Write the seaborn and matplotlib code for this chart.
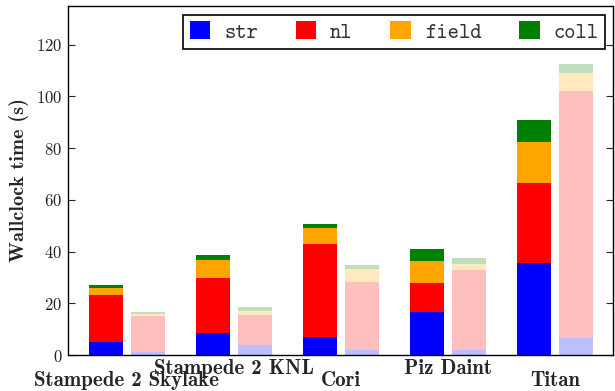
import matplotlib
matplotlib.use("Agg")
import matplotlib.pyplot as plt
from matplotlib.patches import Patch
from matplotlib.transforms import ScaledTranslation
import seaborn as sns
import pandas as pd
import numpy as np

machines = ["Stampede 2 Skylake", "Stampede 2 KNL", "Cori", "Piz Daint", "Titan"]
components = ["str", "nl", "field", "coll"]
colors = ["#0000ff", "#ff0000", "#ffa500", "#008000"]
light_colors = ["#bfbfff", "#ffbfbf", "#ffe9bf", "#bfdfbf"]

# segment values (s), first (solid) variant
solid_str = [4.9, 8.7, 7.1, 16.7, 35.4]
solid_nl = [18.3, 21.1, 35.8, 11.3, 31.2]
solid_field = [2.7, 7.0, 6.1, 8.2, 15.9]
solid_coll = [1.3, 2.0, 1.7, 4.8, 8.4]
# second (faded) variant
light_str = [1.3, 4.0, 1.8, 1.8, 6.4]
light_nl = [13.7, 11.4, 26.3, 30.9, 95.7]
light_field = [0.7, 1.7, 5.3, 2.6, 7.1]
light_coll = [1.0, 1.4, 1.6, 2.2, 3.4]

solid = np.array([solid_str, solid_nl, solid_field, solid_coll])
light = np.array([light_str, light_nl, light_field, light_coll])
solid_cum = np.cumsum(solid, axis=0)
light_cum = np.cumsum(light, axis=0)

sns.set_style("white")
plt.rcParams["font.family"] = ["cmr10", "DejaVu Serif"]
plt.rcParams["axes.formatter.use_mathtext"] = True

fig = plt.figure(figsize=(6.15, 3.91), dpi=100)
ax = fig.add_axes([68 / 615, 1 - 355 / 391, (613 - 68) / 615, (355 - 6) / 391])

for k in reversed(range(len(components))):
    df = pd.DataFrame({
        "machine": machines * 2,
        "variant": ["solid"] * 5 + ["light"] * 5,
        "top": list(solid_cum[k]) + list(light_cum[k]),
    })
    sns.barplot(data=df, x="machine", y="top", hue="variant", order=machines,
                hue_order=["solid", "light"],
                palette={"solid": colors[k], "light": light_colors[k]},
                width=0.78, gap=0.18, dodge=True, saturation=1, legend=False,
                linewidth=0, ax=ax)

ax.set_xlim(-0.55, 4.54)
ax.set_ylim(0, 135)
ax.set_yticks(range(0, 121, 20))
ax.set_xlabel("")
ax.set_ylabel("Wallclock time (s)", family="cmb10", fontsize=14.6, labelpad=5)
ax.tick_params(axis="y", direction="in", length=5, width=0.8, labelsize=12,
               right=True, left=True, pad=4, labelcolor="#222222")
ax.tick_params(axis="x", length=0, pad=3)
ax.set_xticks(range(5))
ax.set_xticklabels(machines, family="cmb10", fontsize=15)
for i, lab in enumerate(ax.get_xticklabels()):
    if i % 2 == 0:
        lab.set_transform(lab.get_transform() + ScaledTranslation(0, -8.5 / 72, fig.dpi_scale_trans))

for s in ax.spines.values():
    s.set_color("black")
    s.set_linewidth(1.0)

handles = [Patch(facecolor=c, edgecolor="none") for c in colors]
leg = ax.legend(handles, components, loc="upper right",
                bbox_to_anchor=(605 / 615, 1 - 15 / 391), bbox_transform=fig.transFigure,
                borderaxespad=0, ncol=4, prop={"family": "cmtt10", "size": 15.5},
                handlelength=0.95, handleheight=0.9, handletextpad=0.65,
                columnspacing=1.75, fancybox=False, framealpha=1, edgecolor="black",
                borderpad=0.3)
leg.get_frame().set_linewidth(1.2)
for t in leg.get_texts():
    t.set_color("#333333")

fig.savefig("out.png", dpi=100)
